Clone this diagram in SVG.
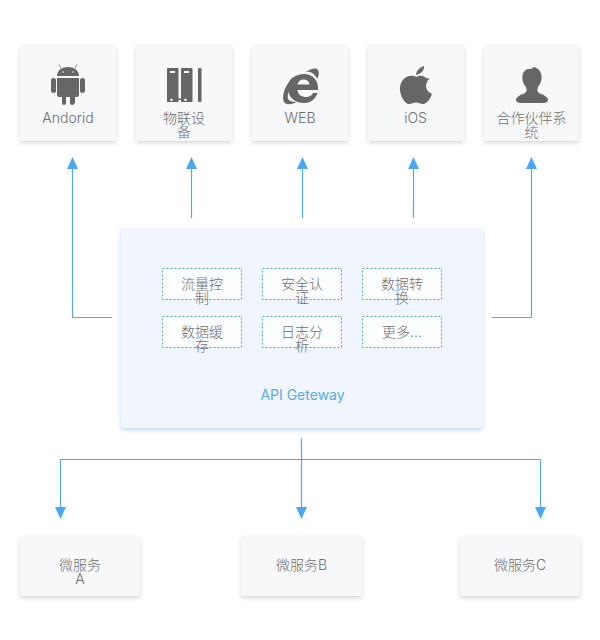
<svg xmlns="http://www.w3.org/2000/svg" width="600" height="640" viewBox="0 0 600 640">
<style>
text{font-family:"Inter","Noto Sans CJK SC",sans-serif;font-size:14px;font-weight:300;fill:#6f6f6f;text-anchor:middle}
.box{fill:#f7f8fa;filter:url(#sh)}
.gw{fill:#f1f6fe;filter:url(#shb)}
.in{fill:#fcfdff;stroke:#4fa8a4;stroke-width:1;stroke-dasharray:2 2}
.ic{fill:#666}
.ln{fill:none;stroke:#56aadd;stroke-width:1.2}
.ar{fill:#4aa8f2}
text.blue{fill:#5aaae8;font-weight:400}
</style>
<defs>
<filter id="sh" x="-10%" y="-10%" width="120%" height="125%"><feDropShadow dx="0" dy="2" stdDeviation="2" flood-color="#000" flood-opacity=".16"/></filter>
<filter id="shb" x="-5%" y="-5%" width="110%" height="112%"><feDropShadow dx="0" dy="2" stdDeviation="2" flood-color="#7fb0ee" flood-opacity=".5"/></filter>
</defs>
<rect width="600" height="640" fill="#fff"/>
<g id="connectors">
<path class="ln" d="M112 317.500H72.500V168"/><path class="ar" d="M72.500 157l5.500 12H67z"/>
<path class="ln" d="M191.500 218V168"/><path class="ar" d="M191.500 157l5.500 12h-11z"/>
<path class="ln" d="M302.500 218V168"/><path class="ar" d="M302.500 157l5.500 12h-11z"/>
<path class="ln" d="M413.500 218V168"/><path class="ar" d="M413.500 157l5.500 12h-11z"/>
<path class="ln" d="M492 317.500H531.500V168"/><path class="ar" d="M531.500 157l5.500 12h-11z"/>
<path class="ln" d="M301.500 438V508M60.500 508V459.500H540.500V508"/>
<path class="ar" d="M60.500 519l-5.500-12h11z"/><path class="ar" d="M301.500 519l-5.500-12h11z"/><path class="ar" d="M540.500 519l-5.500-12h11z"/>
</g>
<g id="android"><rect class="box" x="20" y="45" width="96" height="96" rx="2"/>
<path class="ic" d="M57 76C57 71 61 67 68 67C75 67 79 71 79 76ZM57 78H79V95Q79 97 77 97H75V103Q74 105 72 105Q70 105 70 103V97H66V103Q66 105 64 105Q62 105 62 103V97H59Q57 97 57 95Z"/>
<path d="M61 68L59 64.500M75 68L77 64.500" stroke="#666" stroke-width=".7" fill="none"/>
<rect class="ic" x="51" y="78" width="5" height="15" rx="2.500"/><rect class="ic" x="80" y="78" width="5" height="15" rx="2.500"/>
<circle cx="63" cy="72" r=".8" fill="#eee"/><circle cx="73" cy="72" r=".8" fill="#eee"/>
<text x="68" y="123">Andorid</text></g>
<g id="iot"><rect class="box" x="136" y="45" width="96" height="96" rx="2"/>
<path class="ic" fill-rule="evenodd" d="M168 68H177.500Q178.500 68 178.500 69V102H167V69Q167 68 168 68ZM170 71V73H175V71ZM171.500 98.500a1.300 1.300 0 1 0 .01 0ZM182 68H191.500Q192.500 68 192.500 69V102H181V69Q181 68 182 68ZM184 71V73H189V71ZM185.500 98.500a1.300 1.300 0 1 0 .01 0Z"/>
<rect class="ic" x="198" y="68" width="3.500" height="34" rx="1"/>
<rect class="ic" x="177" y="98.500" width="5" height="1.500"/>
<text x="184" y="123">物联设</text><text x="184" y="137">备</text></g>
<g id="web"><rect class="box" x="252" y="45" width="96" height="96" rx="2"/>
<path class="ic" fill-rule="evenodd" d="M318 90H297.500C298 95 302 97 306 97C309 97 312 95.500 313 93H317.500C315 100 310 103 304 103C295 103 288 97 288 89C288 79 296 74 304 74C313 74 319 81 318 90ZM297.500 84.500H309.500C309 81 307 79.500 303.500 79.500C300 79.500 298 81.500 297.500 84.500Z"/>
<path class="ic" d="M293 77C286 84 281 95 284 102C287 106 293 104 297 102C292 102 289 101 288 99C287 95 289 88 293 83Z"/>
<path class="ic" d="M304 73C310 69 316 67 318 70C319.500 72 319 76 317 79C315.500 75 313 73 310 72C308 71.500 306 72 304 73Z"/>
<text x="300" y="123">WEB</text></g>
<g id="ios"><rect class="box" x="368" y="45" width="96" height="96" rx="2"/>
<path class="ic" d="M426 78C423 75 419 75.500 416.500 77C414 75.500 410 75 406.500 77C401 80 399.500 86 400 91C401 97 405 104 409 104C412 104 413 102.500 416 102.500C419 102.500 420 104 423 104C427 104 430.500 98 432 94C427 92 425 87 426.500 83.500C427 81 428 80 429.500 79C428 78 427 78 426 78Z"/>
<path class="ic" d="M416 75C416 71 420 67 424 66C424.500 70 421 74 416 75Z"/>
<text x="415.500" y="123">iOS</text></g>
<g id="partner"><rect class="box" x="484" y="45" width="95" height="96" rx="2"/>
<path class="ic" d="M534 67C538 68 541 71 541.500 76C542 81 540 84 538 87C537 90 537 92 540 93.500C545 95 548 98 548 100C548 102 546 103 543 103H521C518 103 516 102 516 100C516 98 519 95 524 93.500C527 92 527 90 526 87C523 84 522 80 522.500 76C523 71 527 68 531 69Z"/>
<text x="531.500" y="123">合作伙伴系</text><text x="531.500" y="137">统</text></g>
<g id="gateway"><rect class="gw" x="121" y="228" width="362" height="200" rx="3"/>
<text class="blue" x="302.500" y="400">API Geteway</text></g>
<g id="f1"><rect class="in" x="162.500" y="268.500" width="79" height="31"/><text x="202" y="289">流量控</text><text x="202" y="303">制</text></g>
<g id="f2"><rect class="in" x="262.500" y="268.500" width="79" height="31"/><text x="302" y="289">安全认</text><text x="302" y="303">证</text></g>
<g id="f3"><rect class="in" x="362.500" y="268.500" width="79" height="31"/><text x="402" y="289">数据转</text><text x="402" y="303">换</text></g>
<g id="f4"><rect class="in" x="162.500" y="316.500" width="79" height="31"/><text x="202" y="337">数据缓</text><text x="202" y="351">存</text></g>
<g id="f5"><rect class="in" x="262.500" y="316.500" width="79" height="31"/><text x="302" y="337">日志分</text><text x="302" y="351">析</text></g>
<g id="f6"><rect class="in" x="362.500" y="316.500" width="79" height="31"/><text x="402" y="337">更多...</text></g>
<g id="svcA"><rect class="box" x="20" y="536" width="120" height="60" rx="2"/><text x="80" y="570">微服务</text><text x="80" y="584">A</text></g>
<g id="svcB"><rect class="box" x="241" y="536" width="121" height="60" rx="2"/><text x="301.500" y="570">微服务B</text></g>
<g id="svcC"><rect class="box" x="460" y="536" width="120" height="60" rx="2"/><text x="520" y="570">微服务C</text></g>
</svg>
